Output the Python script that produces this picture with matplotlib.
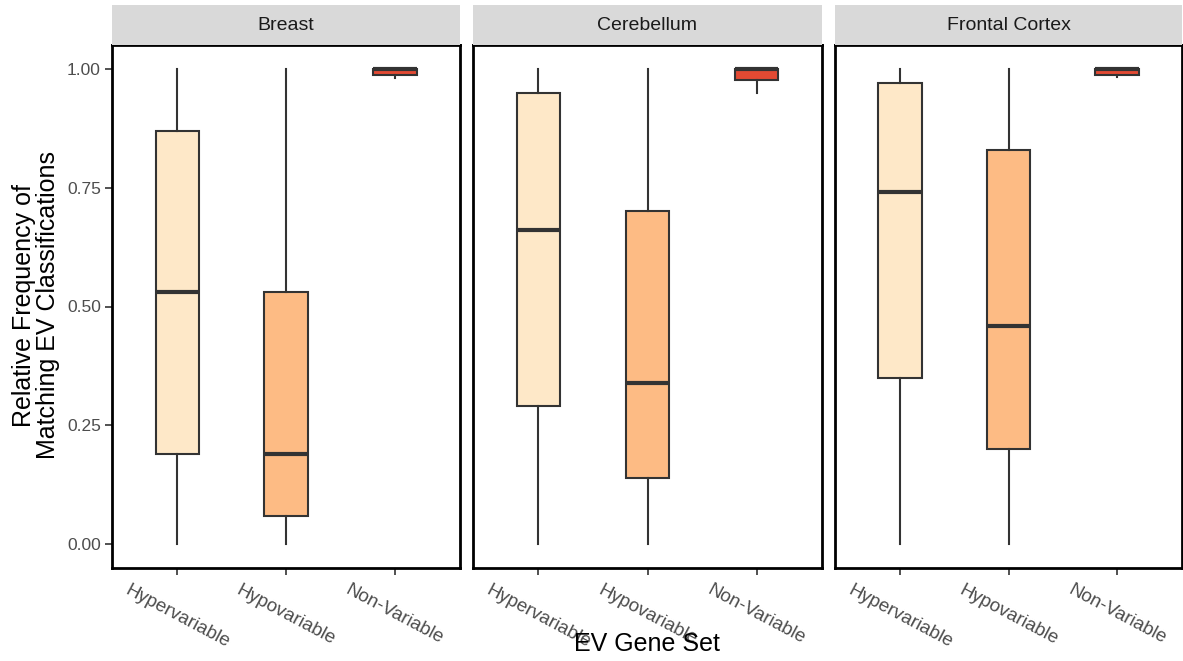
import matplotlib.pyplot as plt

plt.rcParams['font.family'] = ['Liberation Sans', 'DejaVu Sans']

tissues = ['Breast', 'Cerebellum', 'Frontal Cortex']
gene_sets = ['Hypervariable', 'Hypovariable', 'Non-Variable']
colors = ['#FEE8C8', '#FDBB84', '#E34A33']

# per tissue, per gene set: (whisker low, q1, median, q3, whisker high)
breast = [(0.00, 0.19, 0.53, 0.87, 1.00),
          (0.00, 0.06, 0.19, 0.53, 1.00),
          (0.980, 0.987, 1.00, 1.00, 1.00)]
cerebellum = [(0.00, 0.29, 0.66, 0.95, 1.00),
              (0.00, 0.14, 0.34, 0.70, 1.00),
              (0.95, 0.977, 1.00, 1.00, 1.00)]
frontal = [(0.00, 0.35, 0.74, 0.97, 1.00),
           (0.00, 0.20, 0.46, 0.83, 1.00),
           (0.982, 0.987, 1.00, 1.00, 1.00)]
summaries = [breast, cerebellum, frontal]

W, H = 1183, 661
fig = plt.figure(figsize=(W / 100, H / 100), dpi=100)

panel_x = [(112, 460), (473, 822), (835, 1182)]
top, bottom, strip_top = 45, 568, 5
edge = '#333333'

for i, (tissue, stats) in enumerate(zip(tissues, summaries)):
    x0, x1 = panel_x[i]
    ax = fig.add_axes([x0 / W, (H - bottom) / H, (x1 - x0) / W, (bottom - top) / H])
    bxp_stats = [dict(whislo=s[0], q1=s[1], med=s[2], q3=s[3], whishi=s[4], fliers=[])
                 for s in stats]
    bp = ax.bxp(bxp_stats, positions=[1, 2, 3], widths=0.4, patch_artist=True,
                showcaps=False, showfliers=False,
                boxprops=dict(edgecolor=edge, linewidth=1.5),
                whiskerprops=dict(color=edge, linewidth=1.5),
                medianprops=dict(color=edge, linewidth=3, solid_capstyle='butt'))
    for patch, c in zip(bp['boxes'], colors):
        patch.set_facecolor(c)
    ax.set_xlim(0.4, 3.6)
    ax.set_ylim(-0.05, 1.05)
    ax.set_xticks([1, 2, 3])
    ax.set_xticklabels(gene_sets, rotation=-28, ha='center', va='top',
                       fontsize=13.5, color='#4D4D4D')
    ax.tick_params(axis='x', length=5, width=1.2, color=edge, pad=5)
    if i == 0:
        ax.set_yticks([0, 0.25, 0.5, 0.75, 1.0])
        ax.set_yticklabels(['0.00', '0.25', '0.50', '0.75', '1.00'],
                           fontsize=12.5, color='#4D4D4D')
        ax.tick_params(axis='y', length=5, width=1.2, color=edge, pad=3)
    else:
        ax.set_yticks([])
    for sp in ax.spines.values():
        sp.set_linewidth(2)
        sp.set_color('black')

    # facet strip
    sx = fig.add_axes([x0 / W, (H - top) / H, (x1 - x0) / W, (top - strip_top) / H])
    sx.set_facecolor('#D9D9D9')
    sx.set_xticks([])
    sx.set_yticks([])
    for sp in sx.spines.values():
        sp.set_visible(False)
    sx.text(0.5, 0.5, tissue, ha='center', va='center', fontsize=14,
            color='#1A1A1A', transform=sx.transAxes)

fig.text(647 / W, 1 - 644 / H, 'EV Gene Set', ha='center', va='center', fontsize=18)
fig.text(36 / W, 1 - 305 / H, 'Relative Frequency of\nMatching EV Classifications',
         ha='center', va='center', rotation=90, fontsize=18, linespacing=0.95)

fig.savefig('out.png', dpi=100)
